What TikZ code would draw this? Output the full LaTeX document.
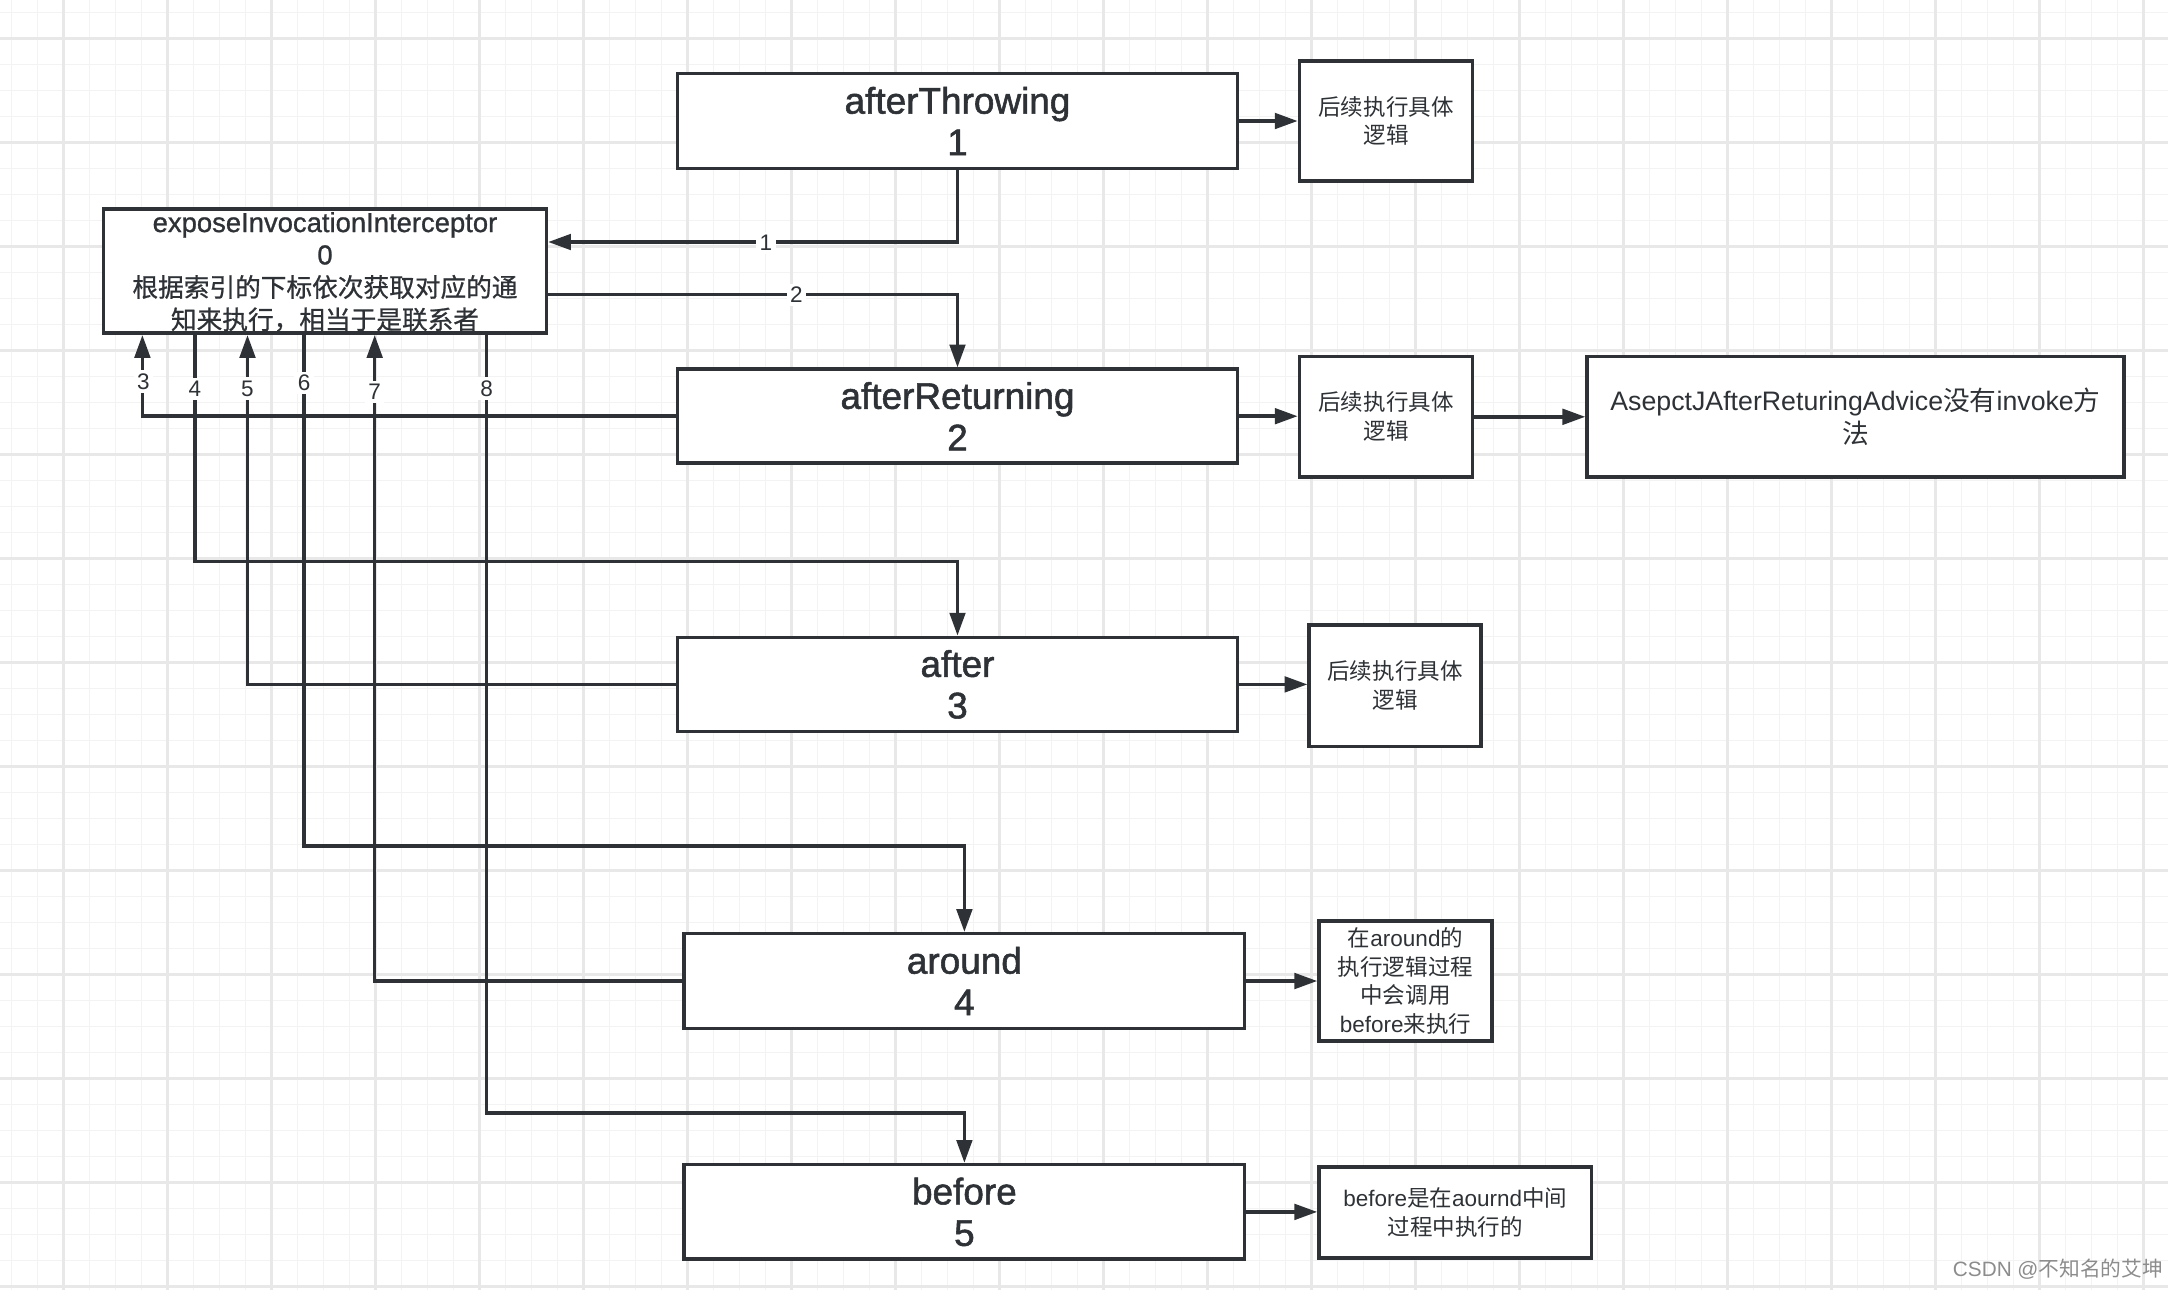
\documentclass[tikz,border=0pt]{standalone}
\usepackage{fontspec}
\setmainfont{Liberation Sans}
\newfontfamily\cjk{Noto Sans CJK SC}
\newfontfamily\labfont[FakeBold=1.5]{Liberation Sans}
\newfontfamily\midfont[FakeBold=1]{Liberation Sans}
\newfontfamily\cjkb[FakeBold=0.8]{Noto Sans CJK SC}
\usetikzlibrary{arrows.meta}
\definecolor{ink}{HTML}{2E3236}
\definecolor{gminor}{HTML}{F3F3F3}
\definecolor{gmajor}{HTML}{E8E8E8}
\definecolor{wm}{HTML}{8C8C8C}
\tikzset{
  box/.style={draw=ink, line width=1pt, fill=white, inner sep=0pt, align=center, text=ink},
  mainbox/.style={box, minimum width=5.6cm, minimum height=0.945cm, font=\labfont\fontsize{10.5pt}{11.8pt}\selectfont},
  smallbox/.style={box, font=\fontsize{6.4pt}{8.2pt}\selectfont},
  arr/.style={draw=ink, line width=1pt, -{Triangle[length=6.5pt,width=4.4pt]}},
  elabel/.style={fill=white, inner sep=1pt, text=ink, font=\fontsize{6.4pt}{7pt}\selectfont},
  gminorline/.style={draw=gminor, line width=0.5pt},
  gmajorline/.style={draw=gmajor, line width=0.6pt}
}
\begin{document}
\begin{tikzpicture}[x=0.01cm,y=-0.01cm]
\useasboundingbox (0,0) rectangle (2168,1290);
\fill[white] (0,0) rectangle (2168,1290);
% grid
\foreach \i in {0,...,83} \draw[gminorline] (11.5+26*\i,0) -- (11.5+26*\i,1290);
\foreach \i in {0,...,49} \draw[gminorline] (0,12.5+26*\i) -- (2168,12.5+26*\i);
\foreach \i in {0,...,20} \draw[gmajorline] (63.5+104*\i,0) -- (63.5+104*\i,1290);
\foreach \i in {0,...,12} \draw[gmajorline] (0,38.5+104*\i) -- (2168,38.5+104*\i);

% nodes
\node[box, minimum width=4.425cm, minimum height=1.244cm] (expose) at (325,271) {};
\node[text=ink, align=center, inner sep=0pt, font=\midfont\fontsize{7.8pt}{9.2pt}\selectfont] (exposetext) at (325,272)
  {exposeInvocationInterceptor\\0\\
   {\cjkb\fontsize{7.3pt}{9.2pt}\selectfont 根据索引的下标依次获取对应的通}\\
   {\cjkb\fontsize{7.3pt}{9.2pt}\selectfont 知来执行，相当于是联系者}};

\node[mainbox] (aT) at (957.5,121) {afterThrowing\\1};
\node[mainbox, minimum height=0.94cm] (aR) at (957.5,416.2) {afterReturning\\2};
\node[mainbox, minimum height=0.94cm] (after) at (957.5,684.4) {after\\3};
\node[mainbox] (around) at (964.4,981) {around\\4};
\node[mainbox] (before) at (964.4,1211.9) {before\\5};

\node[smallbox, minimum width=1.73cm, minimum height=1.203cm] (s1) at (1386,121) {{\cjk 后续执行具体}\\{\cjk 逻辑}};
\node[smallbox, minimum width=1.73cm, minimum height=1.203cm] (s2) at (1386,416.8) {{\cjk 后续执行具体}\\{\cjk 逻辑}};
\node[box, minimum width=5.365cm, minimum height=1.203cm, font=\fontsize{7.6pt}{9.4pt}\selectfont] (asp) at (1855.5,416.8)
  {AsepctJAfterReturingAdvice{\cjk 没有}invoke{\cjk 方}\\{\cjk 法}};
\node[smallbox, minimum width=1.715cm, minimum height=1.217cm] (s3) at (1395,685.8) {{\cjk 后续执行具体}\\{\cjk 逻辑}};
\node[smallbox, minimum width=1.728cm, minimum height=1.203cm] (s4) at (1405.5,981)
  {{\cjk 在}around{\cjk 的}\\{\cjk 执行逻辑过程}\\{\cjk 中会调用}\\before{\cjk 来执行}};
\node[smallbox, minimum width=2.724cm, minimum height=0.912cm] (s5) at (1455.3,1212.6)
  {before{\cjk 是在}aournd{\cjk 中间}\\{\cjk 过程中执行的}};

% connectors from / to the interceptor
\draw[arr] (aT.south) |- (expose.east |- 0,242);
\draw[arr] (expose.east |- 0,294.5) -| (aR.north);
\draw[arr] (aR.west) -| (expose.south -| 142.4,0);
\draw[arr] (expose.south -| 195,0) -- (195,561.4) -| (after.north);
\draw[arr] (after.west) -| (expose.south -| 247.5,0);
\draw[arr] (expose.south -| 304.2,0) -- (304.2,846.2) -| (around.north);
\draw[arr] (around.west) -| (expose.south -| 374.7,0);
\draw[arr] (expose.south -| 486.7,0) -- (486.7,1113.1) -| (before.north);

% side arrows
\draw[arr] (aT.east) -- (aT.east -| s1.west);
\draw[arr] (aR.east) -- (aR.east -| s2.west);
\draw[arr] (s2.east) -- (s2.east -| asp.west);
\draw[arr] (after.east) -- (after.east -| s3.west);
\draw[arr] (around.east) -- (around.east -| s4.west);
\draw[arr] (before.east) -- (before.east -| s5.west);

% edge labels
\node[elabel] (l1) at (766,243) {1};
\node[elabel] (l2) at (796.4,295) {2};
\node[elabel] (l3) at (143.5,381.5) {3};
\node[elabel] (l4) at (195,389) {4};
\node[elabel] (l5) at (247.5,388.5) {5};
\node[elabel] (l6) at (304.2,383) {6};
\node[elabel] (l7) at (374.7,392) {7};
\node[elabel] (l8) at (486.7,388.5) {8};

% watermark
\node[text=wm, inner sep=0pt, font=\fontsize{5.9pt}{7pt}\selectfont] (wmark) at (2058,1269) {CSDN @{\cjk 不知名的艾坤}};
\end{tikzpicture}
\end{document}
